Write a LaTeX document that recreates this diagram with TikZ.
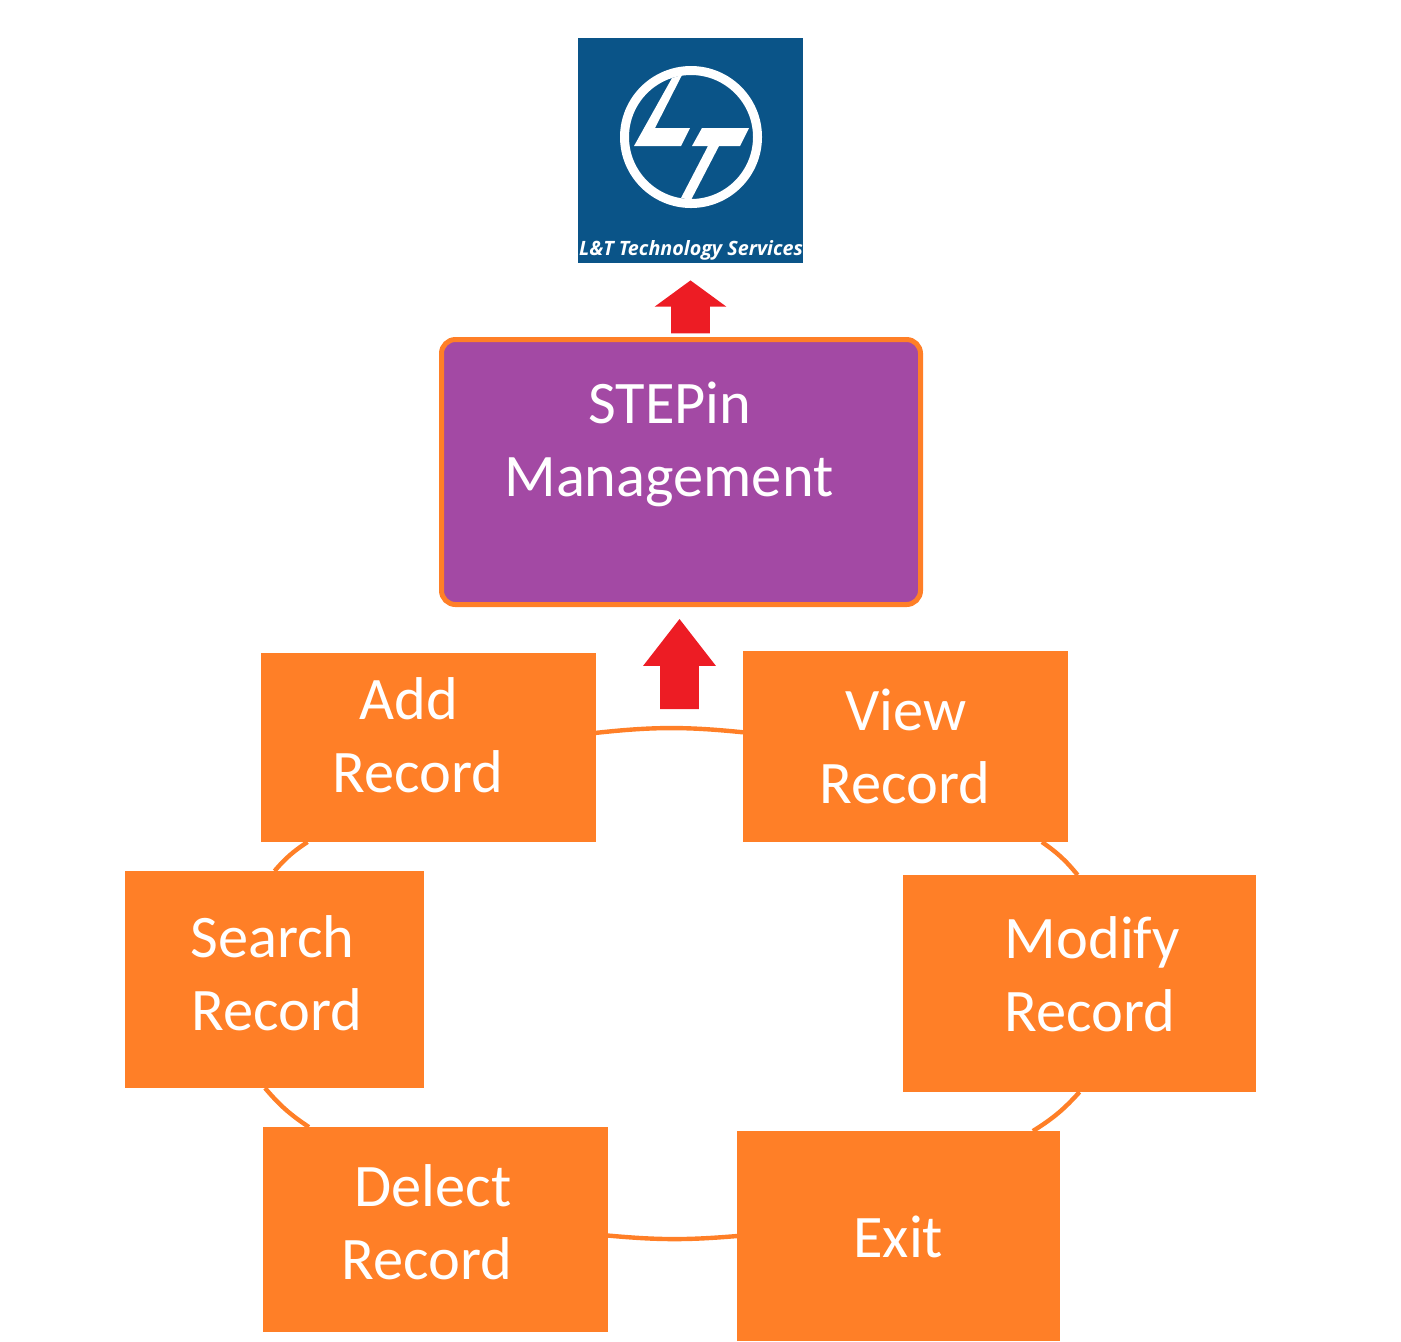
\documentclass[tikz,border=0pt]{standalone}
\usepackage{fontspec}
\setmainfont{Carlito}
\newfontfamily\logofont{Open Sans}
\usetikzlibrary{shapes, arrows, positioning, calc}

\definecolor{boxorange}{HTML}{FF7F27}
\definecolor{mgmtpurple}{HTML}{A349A4}
\definecolor{arrowred}{HTML}{ED1C24}
\definecolor{logoblue}{HTML}{0A5488}

\begin{document}
\begin{tikzpicture}[
  x=0.5pt, y=-0.5pt,
  opbox/.style={rectangle, fill=boxorange, outer sep=0pt, inner sep=0pt},
  mgmtbox/.style={rectangle, draw=boxorange, line width=2.5pt, fill=mgmtpurple, rounded corners=7pt, inner sep=0pt},
  boxtext/.style={anchor=west, align=left, text=white, inner sep=0pt, font=\fontsize{30.2}{36.5}\selectfont},
  ring/.style={draw=boxorange, line width=2.2pt},
  uparrow/.style={single arrow, fill=arrowred, inner sep=9.5pt, outer sep=0pt, shape border rotate=90}
]
\useasboundingbox (0,0) rectangle (1401,1341);

% Logo
\node[rectangle, fill=logoblue, minimum size=112.5pt, inner sep=0pt, outer sep=0pt] (logo) at (690.5,150.5) {};
\node[circle, draw=white, line width=4.5pt, minimum size=66.5pt, inner sep=0pt] (logoring) at (691,137) {};
\fill[white] (672,78) -- (682,75) -- (655,128) -- (690,128) -- (681,146) -- (634,146) -- cycle;
\fill[white] (702,128) -- (749,128) -- (740,146) -- (719,146) -- (691,200) -- (681,198) -- (708,146) -- (692,146) -- cycle;
\node[text=white, inner sep=0pt, font=\logofont\fontsize{9.87}{11}\selectfont\bfseries\itshape] (logotext) at (691,250) {L\&T Technology Services};

% Management box
\node[mgmtbox, minimum width=239.5pt, minimum height=132.5pt] (mgmt) at (681,472) {};
\node[boxtext] (mgmttext) at (504,444) {\hspace*{42pt}STEPin\\Management};

% Arrows
\node[uparrow, minimum height=26pt, single arrow tip angle=107.6, single arrow head extend=8.25pt] (arrowtop) at (690.5,314) {};
\node[uparrow, minimum height=45pt, single arrow tip angle=75.7, single arrow head extend=8.5pt] (arrowlow) at (679.5,676.5) {};

% Operations
\node[opbox, minimum width=167.5pt, minimum height=94.5pt] (add) at (428.5,747.5) {};
\node[opbox, minimum width=162.5pt, minimum height=95.5pt] (view) at (905.5,746.5) {};
\node[opbox, minimum width=176.5pt, minimum height=108.5pt] (modify) at (1079.5,983.5) {};
\node[opbox, minimum width=161.5pt, minimum height=105pt] (exit) at (898.5,1236) {};
\node[opbox, minimum width=172.5pt, minimum height=102.5pt] (delect) at (435.5,1229.5) {};
\node[opbox, minimum width=149.5pt, minimum height=108.5pt] (search) at (274.5,979.5) {};

\node[boxtext] (addtext) at (332.5,735) {\hspace*{13.5pt}Add\\Record};
\node[boxtext] (viewtext) at (819,746.5) {\hspace*{13pt}View\\Record};
\node[boxtext] (modifytext) at (1004.5,974.5) {Modify\\Record};
\node[boxtext] (exittext) at (853,1237) {Exit};
\node[boxtext] (delecttext) at (341,1222.5) {\hspace*{6.5pt}Delect\\Record};
\node[boxtext] (searchtext) at (190,973) {\hspace*{0pt}Search\\\hspace*{0.5pt}Record};

% Ring between the boxes
\draw[ring] (add.5) to[bend left=6] (view.175);
\draw[ring] (view.-35.4) to[bend left=8] (modify.91);
\draw[ring] (modify.270) to[bend left=8] (exit.38);
\draw[ring] (exit.180) to[bend left=5] (delect.-2);
\draw[ring] (delect.141.2) to[bend left=8] (search.265);
\draw[ring] (search.90) to[bend left=8] (add.218);

\end{tikzpicture}
\end{document}
